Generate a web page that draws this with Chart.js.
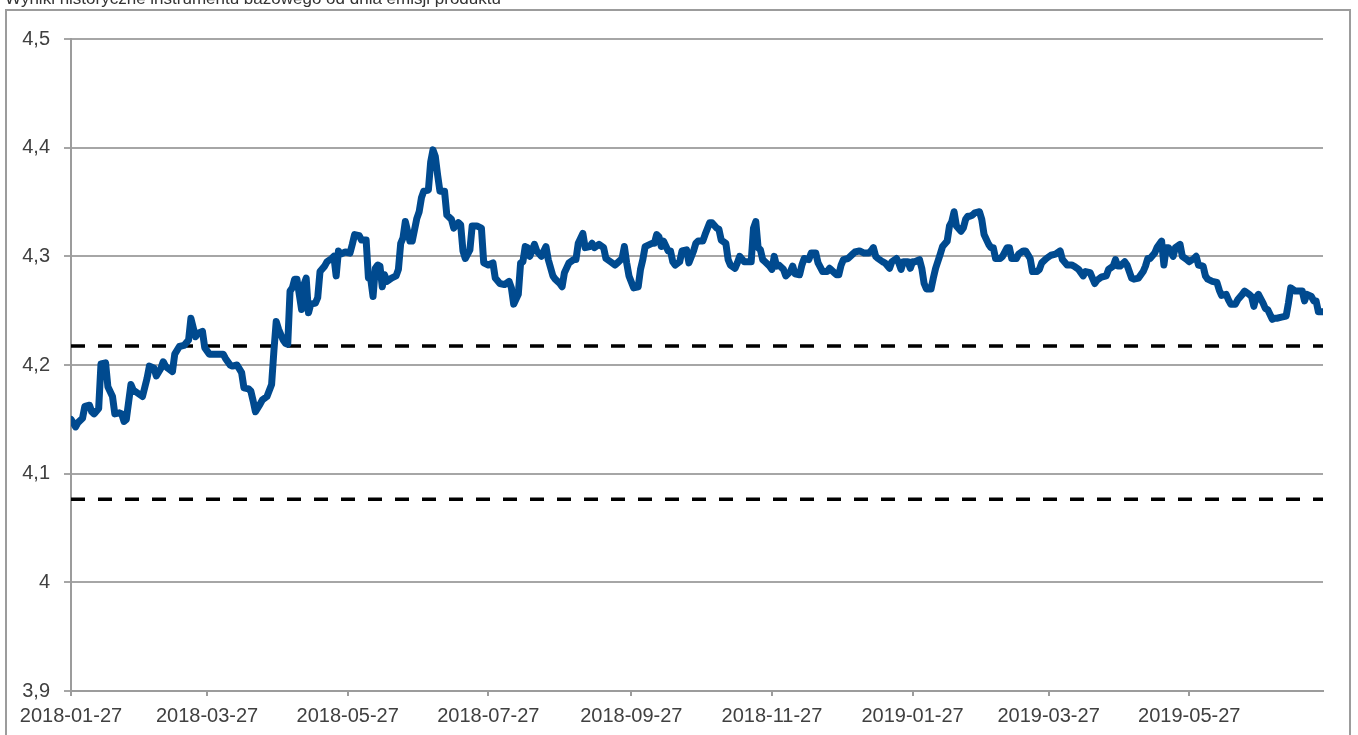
<!DOCTYPE html>
<html>
<head>
<meta charset="utf-8">
<script src="https://cdn.jsdelivr.net/npm/chart.js@4.4.1/dist/chart.umd.min.js"></script>
<style>
  body { margin: 0; background: #fff; }
  #wrap { width: 1358px; height: 735px; }
</style>
</head>
<body>
<div id="wrap"><canvas id="histChart" width="1358" height="735"></canvas></div>
<script>
// Title (partly cut off at the top in the source image)
const chartTitle = 'Wyniki historyczne instrumentu bazowego od dnia emisji produktu';

// Observation dates
const dates = [
  '2018-01-27','2018-01-29','2018-01-30','2018-02-01','2018-02-02','2018-02-04','2018-02-05','2018-02-06','2018-02-08','2018-02-09',
  '2018-02-11','2018-02-12','2018-02-14','2018-02-15','2018-02-17','2018-02-18','2018-02-19','2018-02-20','2018-02-22','2018-02-23',
  '2018-02-25','2018-02-27','2018-03-01','2018-03-02','2018-03-04','2018-03-05','2018-03-07','2018-03-08','2018-03-09','2018-03-10',
  '2018-03-12','2018-03-13','2018-03-15','2018-03-17','2018-03-19','2018-03-20','2018-03-22','2018-03-23','2018-03-25','2018-03-26',
  '2018-03-28','2018-03-31','2018-04-03','2018-04-04','2018-04-06','2018-04-07','2018-04-09','2018-04-11','2018-04-12','2018-04-14',
  '2018-04-15','2018-04-16','2018-04-17','2018-04-19','2018-04-20','2018-04-22','2018-04-24','2018-04-25','2018-04-26','2018-04-27',
  '2018-04-29','2018-04-30','2018-05-01','2018-05-02','2018-05-03','2018-05-04','2018-05-05','2018-05-07','2018-05-08','2018-05-09',
  '2018-05-10','2018-05-11','2018-05-13','2018-05-14','2018-05-15','2018-05-17','2018-05-18','2018-05-20','2018-05-21','2018-05-22',
  '2018-05-23','2018-05-24','2018-05-26','2018-05-28','2018-05-29','2018-05-30','2018-06-01','2018-06-02','2018-06-04','2018-06-05',
  '2018-06-06','2018-06-07','2018-06-08','2018-06-09','2018-06-10','2018-06-11','2018-06-12','2018-06-13','2018-06-15','2018-06-17',
  '2018-06-18','2018-06-19','2018-06-20','2018-06-21','2018-06-22','2018-06-23','2018-06-24','2018-06-26','2018-06-27','2018-06-28',
  '2018-06-29','2018-07-01','2018-07-02','2018-07-03','2018-07-04','2018-07-05','2018-07-06','2018-07-08','2018-07-09','2018-07-11',
  '2018-07-12','2018-07-14','2018-07-15','2018-07-16','2018-07-17','2018-07-19','2018-07-20','2018-07-22','2018-07-24','2018-07-25',
  '2018-07-27','2018-07-29','2018-07-30','2018-08-01','2018-08-03','2018-08-05','2018-08-06','2018-08-07','2018-08-09','2018-08-10',
  '2018-08-11','2018-08-12','2018-08-13','2018-08-14','2018-08-16','2018-08-17','2018-08-19','2018-08-21','2018-08-22','2018-08-24',
  '2018-08-25','2018-08-27','2018-08-28','2018-08-29','2018-08-31','2018-09-02','2018-09-03','2018-09-04','2018-09-06','2018-09-07',
  '2018-09-09','2018-09-10','2018-09-11','2018-09-13','2018-09-15','2018-09-16','2018-09-18','2018-09-20','2018-09-21','2018-09-23',
  '2018-09-24','2018-09-25','2018-09-26','2018-09-28','2018-09-30','2018-10-01','2018-10-02','2018-10-03','2018-10-06','2018-10-07',
  '2018-10-08','2018-10-09','2018-10-10','2018-10-11','2018-10-13','2018-10-14','2018-10-15','2018-10-16','2018-10-18','2018-10-19',
  '2018-10-21','2018-10-22','2018-10-24','2018-10-25','2018-10-26','2018-10-28','2018-10-29','2018-10-31','2018-11-01','2018-11-03',
  '2018-11-04','2018-11-05','2018-11-07','2018-11-08','2018-11-09','2018-11-11','2018-11-12','2018-11-13','2018-11-15','2018-11-18',
  '2018-11-19','2018-11-20','2018-11-21','2018-11-22','2018-11-23','2018-11-24','2018-11-26','2018-11-27','2018-11-28','2018-11-29',
  '2018-11-30','2018-12-02','2018-12-03','2018-12-05','2018-12-06','2018-12-07','2018-12-09','2018-12-10','2018-12-11','2018-12-13',
  '2018-12-14','2018-12-16','2018-12-17','2018-12-19','2018-12-21','2018-12-22','2018-12-24','2018-12-25','2018-12-26','2018-12-27',
  '2018-12-28','2018-12-30','2019-01-01','2019-01-02','2019-01-04','2019-01-06','2019-01-08','2019-01-09','2019-01-10','2019-01-11',
  '2019-01-12','2019-01-14','2019-01-15','2019-01-17','2019-01-18','2019-01-20','2019-01-21','2019-01-22','2019-01-23','2019-01-25',
  '2019-01-26','2019-01-27','2019-01-28','2019-01-30','2019-01-31','2019-02-01','2019-02-02','2019-02-04','2019-02-05','2019-02-06',
  '2019-02-08','2019-02-09','2019-02-11','2019-02-12','2019-02-13','2019-02-14','2019-02-15','2019-02-17','2019-02-18','2019-02-19',
  '2019-02-20','2019-02-21','2019-02-22','2019-02-23','2019-02-25','2019-02-26','2019-02-27','2019-03-01','2019-03-02','2019-03-03',
  '2019-03-04','2019-03-06','2019-03-07','2019-03-09','2019-03-10','2019-03-11','2019-03-13','2019-03-14','2019-03-16','2019-03-17',
  '2019-03-19','2019-03-20','2019-03-22','2019-03-23','2019-03-24','2019-03-26','2019-03-28','2019-03-30','2019-04-01','2019-04-02',
  '2019-04-04','2019-04-06','2019-04-07','2019-04-09','2019-04-10','2019-04-11','2019-04-12','2019-04-14','2019-04-16','2019-04-17',
  '2019-04-19','2019-04-21','2019-04-22','2019-04-24','2019-04-25','2019-04-26','2019-04-27','2019-04-29','2019-04-30','2019-05-02',
  '2019-05-03','2019-05-05','2019-05-07','2019-05-08','2019-05-09','2019-05-10','2019-05-12','2019-05-13','2019-05-15','2019-05-16',
  '2019-05-17','2019-05-18','2019-05-20','2019-05-21','2019-05-23','2019-05-24','2019-05-26','2019-05-27','2019-05-29','2019-05-30',
  '2019-05-31','2019-06-02','2019-06-03','2019-06-04','2019-06-06','2019-06-08','2019-06-09','2019-06-10','2019-06-12','2019-06-13',
  '2019-06-14','2019-06-16','2019-06-17','2019-06-19','2019-06-20','2019-06-22','2019-06-23','2019-06-24','2019-06-25','2019-06-26',
  '2019-06-28','2019-06-29','2019-06-30','2019-07-02','2019-07-03','2019-07-04','2019-07-06','2019-07-08','2019-07-09','2019-07-10',
  '2019-07-12','2019-07-13','2019-07-15','2019-07-16','2019-07-17','2019-07-19','2019-07-20','2019-07-21','2019-07-22','2019-07-24'
];

// Underlying instrument level
const values = [
  4.150,4.143,4.147,4.151,4.162,4.163,4.157,4.155,4.160,4.201,
  4.202,4.180,4.171,4.155,4.156,4.155,4.148,4.150,4.182,4.177,
  4.174,4.171,4.188,4.199,4.197,4.190,4.197,4.203,4.199,4.197,
  4.194,4.210,4.217,4.218,4.223,4.243,4.226,4.229,4.231,4.216,
  4.210,4.210,4.210,4.206,4.200,4.199,4.200,4.193,4.179,4.178,
  4.176,4.167,4.157,4.164,4.168,4.171,4.182,4.213,4.240,4.233,
  4.223,4.220,4.219,4.268,4.271,4.279,4.279,4.251,4.274,4.280,
  4.248,4.256,4.257,4.262,4.286,4.291,4.295,4.298,4.300,4.282,
  4.305,4.302,4.304,4.303,4.311,4.320,4.319,4.315,4.315,4.280,
  4.279,4.263,4.289,4.292,4.291,4.272,4.283,4.277,4.280,4.282,
  4.288,4.312,4.317,4.332,4.323,4.314,4.314,4.335,4.341,4.354,
  4.360,4.361,4.387,4.398,4.392,4.375,4.360,4.360,4.338,4.334,
  4.326,4.331,4.329,4.305,4.298,4.306,4.328,4.328,4.326,4.294,
  4.292,4.294,4.280,4.275,4.274,4.277,4.271,4.256,4.265,4.294,
  4.295,4.309,4.308,4.300,4.311,4.305,4.300,4.309,4.297,4.282,
  4.279,4.275,4.272,4.285,4.294,4.297,4.297,4.312,4.321,4.308,
  4.309,4.312,4.308,4.311,4.308,4.298,4.295,4.292,4.294,4.298,
  4.309,4.294,4.282,4.271,4.272,4.288,4.297,4.309,4.312,4.312,
  4.320,4.318,4.309,4.314,4.305,4.305,4.295,4.292,4.295,4.305,
  4.306,4.294,4.305,4.312,4.314,4.314,4.320,4.331,4.331,4.326,
  4.325,4.315,4.312,4.297,4.292,4.289,4.294,4.300,4.295,4.295,
  4.326,4.332,4.308,4.306,4.297,4.295,4.291,4.288,4.300,4.291,
  4.292,4.288,4.282,4.286,4.291,4.284,4.283,4.292,4.298,4.297,
  4.303,4.303,4.294,4.286,4.286,4.289,4.285,4.283,4.283,4.292,
  4.297,4.298,4.302,4.304,4.305,4.303,4.303,4.305,4.308,4.300,
  4.298,4.295,4.294,4.289,4.295,4.298,4.294,4.288,4.295,4.295,
  4.289,4.295,4.295,4.297,4.289,4.275,4.270,4.270,4.280,4.289,
  4.302,4.309,4.314,4.328,4.332,4.341,4.328,4.323,4.326,4.334,
  4.337,4.337,4.338,4.340,4.341,4.334,4.320,4.311,4.308,4.308,
  4.298,4.298,4.300,4.308,4.308,4.298,4.298,4.302,4.305,4.305,
  4.298,4.286,4.286,4.288,4.294,4.298,4.301,4.302,4.305,4.297,
  4.292,4.292,4.291,4.288,4.285,4.282,4.286,4.285,4.275,4.278,
  4.281,4.282,4.288,4.291,4.297,4.291,4.291,4.295,4.292,4.280,
  4.279,4.280,4.286,4.291,4.298,4.298,4.303,4.308,4.314,4.292,
  4.308,4.308,4.300,4.308,4.311,4.300,4.297,4.295,4.298,4.300,
  4.292,4.291,4.282,4.279,4.277,4.276,4.269,4.264,4.265,4.260,
  4.256,4.256,4.260,4.265,4.268,4.265,4.263,4.254,4.262,4.265,
  4.257,4.252,4.251,4.242,4.243,4.243,4.244,4.245,4.257,4.271,
  4.268,4.268,4.268,4.259,4.265,4.263,4.259,4.259,4.249,4.249
];

// Dashed reference levels
const barrierLevels = [4.2175, 4.0765];

// X axis tick dates
const tickDates = ['2018-01-27', '2018-03-27', '2018-05-27', '2018-07-27', '2018-09-27',
                   '2018-11-27', '2019-01-27', '2019-03-27', '2019-05-27'];

const DAY = 86400000;
const startMs = Date.parse(dates[0]);
function dayNum(s) { return (Date.parse(s) - startMs) / DAY; }
function dayLabel(n) { return new Date(startMs + n * DAY).toISOString().slice(0, 10); }

const firstDay = dayNum(dates[0]);
const lastDay = dayNum(dates[dates.length - 1]);

const fontFamily = "'Liberation Sans', Arial, sans-serif";

// frame + cut-off title
const framePlugin = {
    id: 'frame',
    beforeDraw(chart) {
        const ctx = chart.ctx;
        ctx.save();
        ctx.fillStyle = '#fff';
        ctx.fillRect(0, 0, chart.width, chart.height);
        ctx.strokeStyle = '#9c9c9c';
        ctx.lineWidth = 2;
        ctx.strokeRect(6, 10, 1344, 760);
        ctx.fillStyle = '#333';
        ctx.font = '17px ' + fontFamily;
        ctx.textBaseline = 'alphabetic';
        ctx.fillText(chartTitle, 5, 4);
        ctx.restore();
    }
};

const datasets = [{
    label: 'Kurs',
    data: dates.map((d, i) => ({ x: dayNum(d), y: values[i] })),
    borderColor: '#004a8f',
    borderWidth: 7,
    borderJoinStyle: 'round',
    borderCapStyle: 'round',
    pointRadius: 0,
    tension: 0,
    order: 0
}];
barrierLevels.forEach(function(level, i) {
    datasets.push({
        label: 'Poziom ' + (i + 1),
        data: [{ x: firstDay, y: level }, { x: lastDay, y: level }],
        borderColor: '#000',
        borderWidth: 3.5,
        borderDash: [14, 13],
        pointRadius: 0,
        order: 1
    });
});

const config = {
    type: 'line',
    data: { datasets: datasets },
    plugins: [framePlugin],
    options: {
        responsive: false,
        animation: false,
        layout: { padding: { left: 6, right: 35, top: 39, bottom: 0 } },
        plugins: {
            legend: { display: false },
            title: { display: false },
            tooltip: { enabled: false }
        },
        scales: {
            x: {
                type: 'linear',
                min: firstDay,
                max: lastDay,
                afterBuildTicks: function(scale) {
                    scale.ticks = tickDates.map(d => ({ value: dayNum(d) }));
                },
                afterFit: function(scale) { scale.height = 44; },
                grid: {
                    drawOnChartArea: false,
                    drawTicks: true,
                    tickLength: 5,
                    color: '#9c9c9c',
                    lineWidth: 2
                },
                border: { display: true, color: '#9c9c9c', width: 2 },
                ticks: {
                    autoSkip: false,
                    maxRotation: 0,
                    padding: 8,
                    color: '#404040',
                    font: { family: fontFamily, size: 20 },
                    callback: function(value) { return dayLabel(value); }
                }
            },
            y: {
                min: 3.9,
                max: 4.5,
                afterFit: function(scale) { scale.width = 65; },
                grid: {
                    color: '#a6a6a6',
                    lineWidth: 2,
                    tickLength: 7
                },
                border: { display: true, color: '#9c9c9c', width: 2 },
                ticks: {
                    stepSize: 0.1,
                    padding: 14,
                    color: '#404040',
                    font: { family: fontFamily, size: 20 },
                    callback: function(value) {
                        return String(Math.round(value * 10) / 10).replace('.', ',');
                    }
                }
            }
        }
    }
};

const canvas = document.getElementById('histChart');
var histChart = new Chart(canvas, config);
</script>
</body>
</html>
